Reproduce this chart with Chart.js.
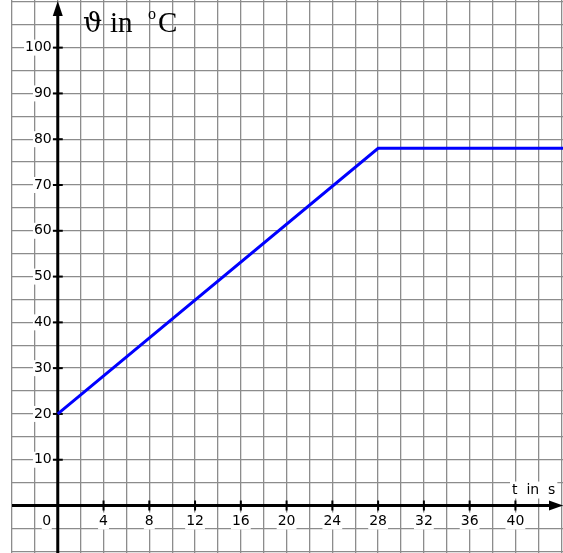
<!DOCTYPE html>
<html><head><meta charset="utf-8">
<script src="https://cdn.jsdelivr.net/npm/chart.js@4"></script>
<style>html,body{margin:0;padding:0;background:#fff;}canvas{display:block;}</style>
</head><body>
<canvas id="c" width="563" height="553"></canvas>
<script>
// Data
const timeValues = [0, 28, 44.2];
const tempValues = [20, 78, 78];
const xTickLabels = [4, 8, 12, 16, 20, 24, 28, 32, 36, 40];
const yTickLabels = [10, 20, 30, 40, 50, 60, 70, 80, 90, 100];
const yTitleSymbol = 'ϑ';
const yTitleWord = 'in';
const yUnit = 'C';
const xTitle = 't  in  s';

const points = timeValues.map((t, i) => ({x: t, y: tempValues[i]}));

const axesPlugin = {
  id: 'axesPlugin',
  beforeDatasetsDraw(chart) {
    const ctx = chart.ctx;
    const xs = chart.scales.x, ys = chart.scales.y;
    const ca = chart.chartArea;
    const x0 = xs.getPixelForValue(0), y0 = ys.getPixelForValue(0);
    ctx.save();
    // axes
    ctx.strokeStyle = '#000'; ctx.lineWidth = 3;
    ctx.beginPath(); ctx.moveTo(ca.left, y0); ctx.lineTo(ca.right - 8, y0); ctx.stroke();
    ctx.beginPath(); ctx.moveTo(x0, ca.bottom); ctx.lineTo(x0, 12); ctx.stroke();
    ctx.fillStyle = '#000';
    ctx.beginPath(); ctx.moveTo(563, y0); ctx.lineTo(549, y0 - 5); ctx.lineTo(549, y0 + 5); ctx.closePath(); ctx.fill();
    ctx.beginPath(); ctx.moveTo(x0, 1); ctx.lineTo(x0 - 5, 16); ctx.lineTo(x0 + 5, 16); ctx.closePath(); ctx.fill();
    // ticks
    ctx.lineWidth = 2;
    ctx.font = '14px "DejaVu Sans"';
    xTickLabels.forEach(v => {
      const px = xs.getPixelForValue(v);
      ctx.beginPath(); ctx.moveTo(px, y0 - 5); ctx.lineTo(px, y0 + 5); ctx.stroke();
      const w = ctx.measureText(String(v)).width;
      ctx.fillStyle = '#fff'; ctx.fillRect(px - w / 2 - 1, y0 + 7, w + 2, 17);
      ctx.fillStyle = '#000'; ctx.textAlign = 'center'; ctx.textBaseline = 'middle';
      ctx.fillText(String(v), px, y0 + 16);
    });
    yTickLabels.forEach(v => {
      const py = ys.getPixelForValue(v);
      ctx.beginPath(); ctx.moveTo(x0 - 5, py); ctx.lineTo(x0 + 5, py); ctx.stroke();
      const w = ctx.measureText(String(v)).width;
      ctx.fillStyle = '#fff'; ctx.fillRect(x0 - 6 - w - 1, py - 8, w + 2, 16);
      ctx.fillStyle = '#000'; ctx.textAlign = 'right'; ctx.textBaseline = 'middle';
      ctx.fillText(String(v), x0 - 6, py);
    });
    // origin label
    ctx.fillStyle = '#fff'; ctx.fillRect(x0 - 16, y0 + 7, 10, 17);
    ctx.fillStyle = '#000'; ctx.textAlign = 'center';
    ctx.fillText('0', x0 - 11, y0 + 16);
    // x title
    ctx.textAlign = 'left';
    const tw = ctx.measureText(xTitle).width;
    ctx.fillStyle = '#fff'; ctx.fillRect(510, y0 - 24, tw + 4, 17);
    ctx.fillStyle = '#000';
    ctx.fillText(xTitle, 512, y0 - 15);
    // y title
    ctx.textBaseline = 'alphabetic';
    ctx.font = '27px "DejaVu Serif"';
    ctx.fillText(yTitleSymbol, 83, 32);
    ctx.font = '29px "Liberation Serif"';
    ctx.fillText(yTitleWord, 110, 32);
    ctx.font = '16px "Liberation Serif"';
    ctx.fillText('o', 148, 19);
    ctx.font = '29px "Liberation Serif"';
    ctx.fillText(yUnit, 158, 32);
    ctx.restore();
  }
};

new Chart(document.getElementById('c'), {
  type: 'scatter',
  data: { datasets: [{
    data: points, showLine: true, borderColor: '#0000ff', borderWidth: 3,
    pointRadius: 0, fill: false, tension: 0
  }]},
  options: {
    responsive: false, animation: false,
    layout: { padding: { left: 12, right: 0, top: 0, bottom: 0 } },
    plugins: { legend: { display: false }, tooltip: { enabled: false } },
    scales: {
      x: { type: 'linear', min: -4, max: 44.16,
        ticks: { display: false, stepSize: 2, includeBounds: false },
        grid: { color: '#8c8c8c', lineWidth: 1.3, drawTicks: false },
        border: { display: false } },
      y: { type: 'linear', min: -10.37, max: 110.4,
        ticks: { display: false, stepSize: 5, includeBounds: false },
        grid: { color: '#8c8c8c', lineWidth: 1.3, drawTicks: false },
        border: { display: false } }
    }
  },
  plugins: [axesPlugin]
});
</script>
</body></html>
